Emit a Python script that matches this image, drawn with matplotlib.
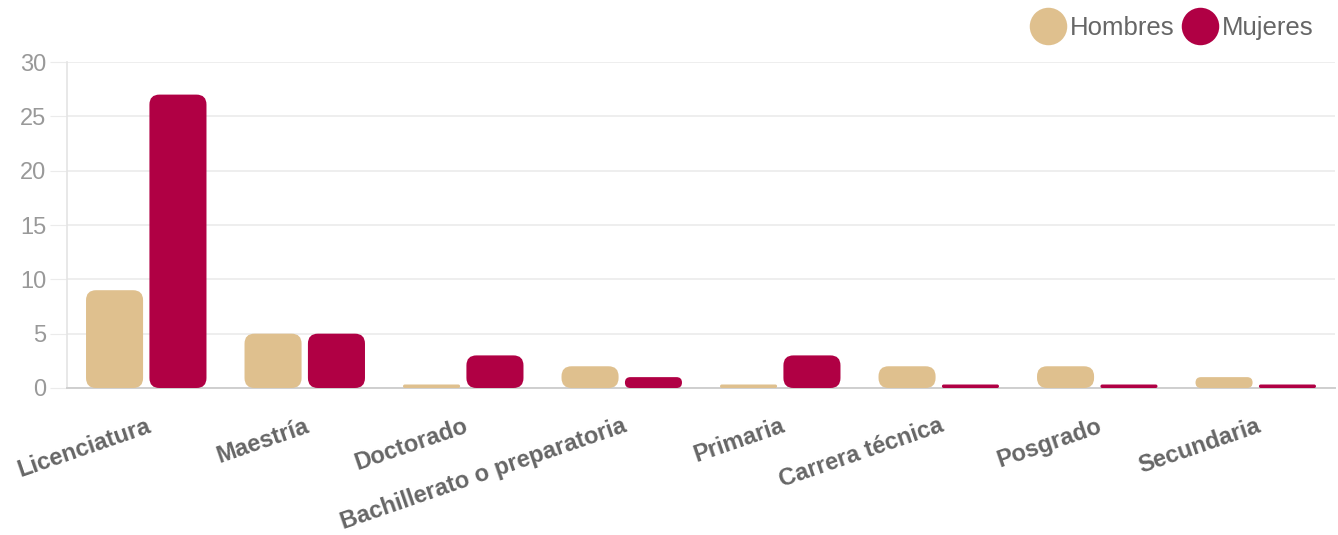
import matplotlib
matplotlib.use("Agg")
import matplotlib.pyplot as plt
from matplotlib.patches import FancyBboxPatch
from matplotlib.lines import Line2D

plt.rcParams['font.family'] = ['Liberation Sans', 'DejaVu Sans']

categories = ['Licenciatura', 'Maestría', 'Doctorado', 'Bachillerato o preparatoria',
              'Primaria', 'Carrera técnica', 'Posgrado', 'Secundaria']
hombres = [9, 5, 0, 2, 0, 2, 2, 1]
mujeres = [27, 5, 3, 1, 3, 0, 0, 0]

c_hombres = '#dfc08e'
c_mujeres = '#b00044'

W, H = 1338, 535
fig = plt.figure(figsize=(W / 100, H / 100), dpi=100)
ax_l, ax_r, ax_t, ax_b = 67, 1335, 62, 388
ax = fig.add_axes([ax_l / W, (H - ax_b) / H, (ax_r - ax_l) / W, (ax_b - ax_t) / H])

ymax = 30
n = len(categories)
ax.set_xlim(-0.5, n - 0.5)
ax.set_ylim(0, ymax)

px_x = n / (ax_r - ax_l)        # data x per pixel
px_y = ymax / (ax_b - ax_t)     # data y per pixel
aspect = px_y / px_x
min_len = 3.5 * px_y            # minimum visible bar length
radius_px = 10

bar_w = 0.36
offset = 0.2


def draw_bars(values, shift, color):
    for i, v in enumerate(values):
        h = max(v, min_len)
        h_px = h / px_y
        r = min(radius_px, h_px / 2, (bar_w / px_x) / 2) * px_x
        p = FancyBboxPatch((i + shift - bar_w / 2, 0), bar_w, h,
                           boxstyle=f"round,pad=0,rounding_size={r}",
                           mutation_aspect=aspect, fc=color, ec='none', zorder=3)
        ax.add_patch(p)


draw_bars(hombres, -offset, c_hombres)
draw_bars(mujeres, offset, c_mujeres)

ax.set_yticks(range(0, 31, 5))
ax.yaxis.grid(True, color='#ebebeb', lw=1.2, zorder=0)
ax.tick_params(axis='y', length=12, color='#ebebeb', labelsize=17, labelcolor='#999999', pad=3)
for s in ['top', 'right']:
    ax.spines[s].set_visible(False)
ax.spines['left'].set_color('#e4e4e4')
ax.spines['left'].set_linewidth(1.2)
ax.spines['bottom'].set_color('#cfcfcf')
ax.spines['bottom'].set_linewidth(1.4)

ax.set_xticks(range(n))
ax.set_xticklabels(categories, rotation=19, ha='right', rotation_mode='anchor',
                   fontsize=17, fontweight='bold', color='#666666')
ax.tick_params(axis='x', length=0, pad=19)

handles = [Line2D([], [], marker='o', ls='', ms=27, mfc=c_hombres, mec='none'),
           Line2D([], [], marker='o', ls='', ms=27, mfc=c_mujeres, mec='none')]
fig.legend(handles, ['Hombres', 'Mujeres'], loc='upper right', bbox_to_anchor=(0.999, 1.013),
           ncol=2, frameon=False, fontsize=18.5, handlelength=1.0, handletextpad=0.35,
           columnspacing=0.5, labelcolor='#666666')

fig.savefig('out.png', dpi=100)
